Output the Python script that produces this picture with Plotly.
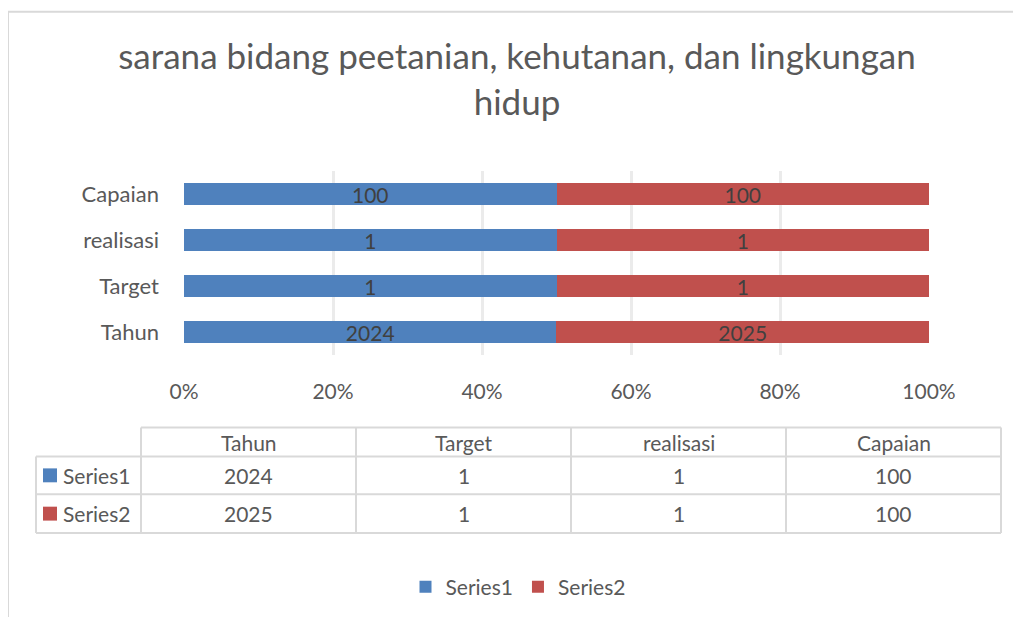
import plotly.graph_objects as go

categories = ["Tahun", "Target", "realisasi", "Capaian"]
series_names = ["Series1", "Series2"]
series1 = [2024, 1, 1, 100]
series2 = [2025, 1, 1, 100]
colors = ["#4f81bd", "#c0504d"]
title_text = "sarana bidang peetanian, kehutanan, dan lingkungan<br>hidup"

# page has an 8px body margin; figure sized to fill the remaining window
OFF = 8
W, H = 1013, 609
L, R, T, B = 176, 92, 163, 261
PW = W - L - R
PH = H - T - B
FONT = "Lato, Open Sans, sans-serif"
TXT = "#595959"

def px(x):
    return (x - OFF - L) / PW

def py(y):
    return (H - B - (y - OFF)) / PH

fig = go.Figure()
for name, vals, col in zip(series_names, [series1, series2], colors):
    fig.add_trace(go.Bar(
        y=categories, x=vals, name=name, orientation="h",
        marker=dict(color=col, line=dict(width=0)),
        text=[str(v) for v in vals], textposition="inside",
        insidetextanchor="middle", textangle=0, constraintext="none",
        textfont=dict(family=FONT, size=21, color="#404040"),
    ))

shapes = []
annotations = []
# outer chart border
shapes.append(dict(type="rect", xref="paper", yref="paper",
                   x0=px(8), x1=px(1060), y0=py(660), y1=py(11),
                   line=dict(color="#d9d9d9", width=2), fillcolor="rgba(0,0,0,0)", layer="below"))

# data table
col_x = [36, 141, 356, 571, 786, 1001]
row_y = [429, 458, 496, 535]
lc = dict(color="#d9d9d9", width=2)
shapes.append(dict(type="line", xref="paper", yref="paper", x0=px(col_x[1]), x1=px(col_x[-1]),
                   y0=py(row_y[0]), y1=py(row_y[0]), line=lc))
for yy in row_y[1:]:
    shapes.append(dict(type="line", xref="paper", yref="paper", x0=px(col_x[0]), x1=px(col_x[-1]),
                       y0=py(yy), y1=py(yy), line=lc))
shapes.append(dict(type="line", xref="paper", yref="paper", x0=px(col_x[0]), x1=px(col_x[0]),
                   y0=py(row_y[1]), y1=py(row_y[-1]), line=lc))
for xx in col_x[1:]:
    shapes.append(dict(type="line", xref="paper", yref="paper", x0=px(xx), x1=px(xx),
                       y0=py(row_y[0]), y1=py(row_y[-1]), line=lc))
for i, c in enumerate(categories):
    cx = (col_x[i + 1] + col_x[i + 2]) / 2
    annotations.append(dict(xref="paper", yref="paper", x=px(cx), y=py((row_y[0] + row_y[1]) / 2),
                            text=c, showarrow=False, font=dict(family=FONT, size=21, color=TXT),
                            xanchor="center", yanchor="middle"))
for r, (name, vals, col) in enumerate(zip(series_names, [series1, series2], colors)):
    yc = (row_y[r + 1] + row_y[r + 2]) / 2
    shapes.append(dict(type="rect", xref="paper", yref="paper", x0=px(43), x1=px(57),
                       y0=py(yc + 7), y1=py(yc - 7), fillcolor=col, line=dict(width=0)))
    annotations.append(dict(xref="paper", yref="paper", x=px(61), y=py(yc), text=name,
                            showarrow=False, font=dict(family=FONT, size=21, color=TXT),
                            xanchor="left", yanchor="middle"))
    for i, v in enumerate(vals):
        cx = (col_x[i + 1] + col_x[i + 2]) / 2
        annotations.append(dict(xref="paper", yref="paper", x=px(cx), y=py(yc), text=str(v),
                                showarrow=False, font=dict(family=FONT, size=21, color=TXT),
                                xanchor="center", yanchor="middle"))

fig.update_layout(
    width=W, height=H,
    margin=dict(l=L, r=R, t=T, b=B),
    barmode="stack", barnorm="percent", bargap=0.52,
    paper_bgcolor="white", plot_bgcolor="white",
    title=dict(text=title_text, x=509 / W, xanchor="center", y=1 - 61 / H, yanchor="top",
               yref="container", xref="container",
               font=dict(family=FONT, size=35, color=TXT)),
    xaxis=dict(range=[0, 100], tickvals=[0, 20, 40, 60, 80, 100],
               ticktext=["0%", "20%", "40%", "60%", "80%", "100%"],
               showgrid=True, gridcolor="#ebebeb", gridwidth=3, zeroline=False,
               showline=False, ticks="", ticklabelstandoff=22,
               tickfont=dict(family=FONT, size=21, color=TXT)),
    yaxis=dict(categoryorder="array", categoryarray=categories, showgrid=False,
               showline=False, ticks="", ticklabelstandoff=24,
               tickfont=dict(family=FONT, size=22, color=TXT)),
    showlegend=True,
    legend=dict(orientation="h", x=px(518), xanchor="center", y=py(587), yanchor="middle",
                font=dict(family=FONT, size=21, color=TXT), itemwidth=30,
                traceorder="normal", bgcolor="rgba(0,0,0,0)"),
    shapes=shapes, annotations=annotations,
)

fig.write_html("out.html")
